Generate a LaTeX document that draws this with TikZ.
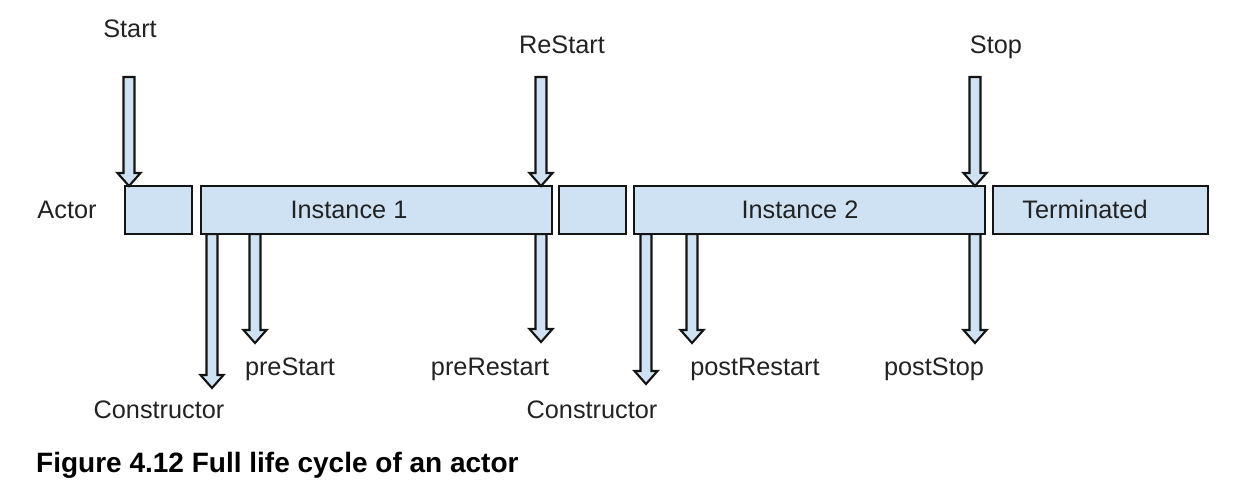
\documentclass[tikz,border=0pt]{standalone}
\usepackage{fontspec}
\setmainfont{Liberation Sans}
\usetikzlibrary{calc}
\definecolor{boxfill}{RGB}{207,226,243}
\definecolor{edgec}{RGB}{20,20,20}
\definecolor{txt}{RGB}{34,34,34}
\tikzset{
 stage/.style={draw=edgec, line width=2.1pt, fill=boxfill, minimum height=48pt, inner sep=0pt, outer sep=0pt},
 lbl/.style={font=\fontsize{25.3}{30}\selectfont, text=txt, anchor=base, inner sep=0pt},
 blockarrow/.style={draw=edgec, line width=2.1pt, fill=boxfill, line join=miter},
}
\newcommand\myblockarrow[2]{%
 \path[blockarrow] let \p1=(#1), \p2=(#2) in
 (\x1-5.5pt,\y1) -- (\x1-5.5pt,\y2+13pt) -- (\x1-11.5pt,\y2+13pt) -- (\x1,\y2) -- (\x1+11.5pt,\y2+13pt) -- (\x1+5.5pt,\y2+13pt) -- (\x1+5.5pt,\y1) -- cycle;}
\begin{document}
\begin{tikzpicture}[x=1pt,y=-1pt]
\useasboundingbox (0,0) rectangle (1250,491);
% boxes
\node[stage, minimum width=67pt]  (boxA)  at (158.5,210) {};
\node[stage, minimum width=351pt] (inst1) at (376.5,210) {};
\node[stage, minimum width=67pt]  (boxB)  at (592.5,210) {};
\node[stage, minimum width=351pt] (inst2) at (809.5,210) {};
\node[stage, minimum width=215pt] (term)  at (1100.5,210) {};
% coordinates
\coordinate (startTop) at (129,77);
\coordinate (startTip) at (startTop |- boxA.north);
\coordinate (restartTop) at (541,77);
\coordinate (restartTip) at (restartTop |- inst1.north);
\coordinate (stopTop) at (975,77);
\coordinate (stopTip) at (stopTop |- inst2.north);
\coordinate (c1Tip) at (212,388);
\coordinate (c1From) at (c1Tip |- inst1.south);
\coordinate (psTip) at (255,343);
\coordinate (psFrom) at (psTip |- inst1.south);
\coordinate (prTip) at (541,342);
\coordinate (prFrom) at (prTip |- inst1.south);
\coordinate (c2Tip) at (646,384);
\coordinate (c2From) at (c2Tip |- inst2.south);
\coordinate (porTip) at (692,343);
\coordinate (porFrom) at (porTip |- inst2.south);
\coordinate (postTip) at (975,343);
\coordinate (postFrom) at (postTip |- inst2.south);
% down arrows (behind box borders)
\myblockarrow{c1From}{c1Tip}
\myblockarrow{psFrom}{psTip}
\myblockarrow{prFrom}{prTip}
\myblockarrow{c2From}{c2Tip}
\myblockarrow{porFrom}{porTip}
\myblockarrow{postFrom}{postTip}
% redraw boxes over arrow tails
\node[stage, minimum width=351pt] at (inst1) {};
\node[stage, minimum width=351pt] at (inst2) {};
% top arrows
\myblockarrow{startTop}{startTip}
\myblockarrow{restartTop}{restartTip}
\myblockarrow{stopTop}{stopTip}
% texts
\node[lbl] (tStart) at (130,37) {Start};
\node[lbl] (tRestart) at (562,53) {ReStart};
\node[lbl] (tStop) at (996,53) {Stop};
\node[lbl] (tActor) at (67,218) {Actor};
\node[lbl] (tInst1) at (349,218) {Instance 1};
\node[lbl] (tInst2) at (800,218) {Instance 2};
\node[lbl] (tTerm) at (1085,218) {Terminated};
\node[lbl] (tPreStart) at (290,375) {preStart};
\node[lbl] (tPreRestart) at (490,375) {preRestart};
\node[lbl] (tPostRestart) at (755,375) {postRestart};
\node[lbl] (tPostStop) at (934,375) {postStop};
\node[lbl] (tCons1) at (159,418) {Constructor};
\node[lbl] (tCons2) at (592,418) {Constructor};
\node[font=\bfseries\fontsize{28}{32}\selectfont, anchor=base west, inner sep=0pt] (caption) at (36,472) {Figure 4.12 Full life cycle of an actor};
\end{tikzpicture}
\end{document}
